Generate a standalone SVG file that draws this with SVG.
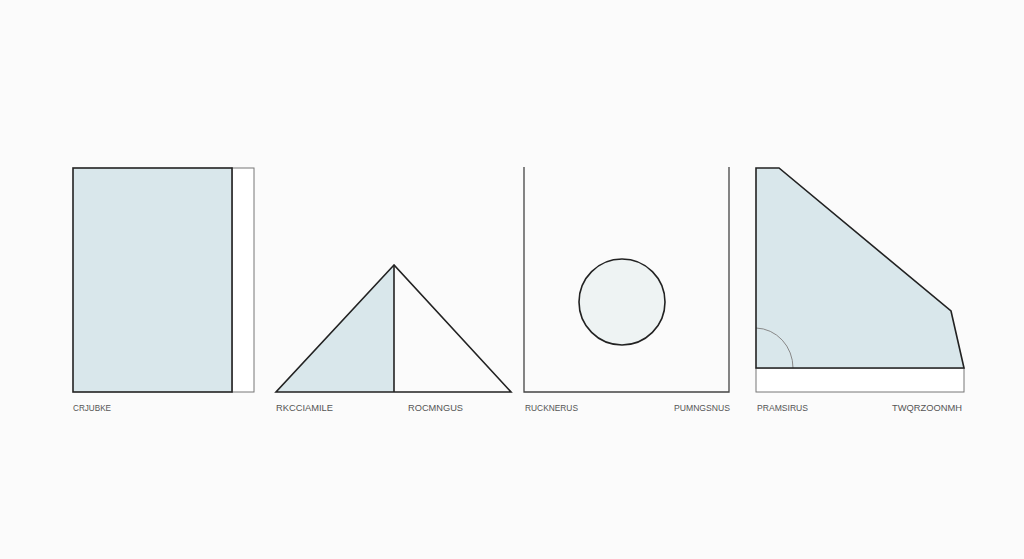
<svg xmlns="http://www.w3.org/2000/svg" width="1024" height="559" viewBox="0 0 1024 559">
<style>
.bg{fill:#fbfbfb}
.fill{fill:#d9e7eb}
.edge{stroke:#222;stroke-width:1.6;fill:none;stroke-linejoin:miter}
.thin{stroke:#777;stroke-width:1;fill:#fff}
.wall{stroke:#444;stroke-width:1.3;fill:none}
.lbl{font-family:"Liberation Sans",Arial,sans-serif;font-size:9px;fill:#555}
</style>
<rect class="bg" x="0" y="0" width="1024" height="559"/>
<g id="square">
<rect class="thin" x="232" y="168" width="22" height="224"/>
<rect class="fill" x="73" y="168" width="159" height="224"/>
<rect class="edge" x="73" y="168" width="159" height="224"/>
<text class="lbl" x="73" y="411" textLength="38" lengthAdjust="spacingAndGlyphs">CRJUBKE</text>
</g>
<g id="triangle">
<polygon class="fill" points="394,265 276,392 394,392"/>
<polygon class="edge" points="394,265 276,392 511,392"/>
<line class="edge" x1="394" y1="265" x2="394" y2="392"/>
<text class="lbl" x="276" y="411" textLength="57" lengthAdjust="spacingAndGlyphs">RKCCIAMILE</text>
<text class="lbl" x="408" y="411" textLength="55" lengthAdjust="spacingAndGlyphs">ROCMNGUS</text>
</g>
<g id="circle-panel">
<polyline class="wall" points="524,167 524,392 729,392 729,167"/>
<circle cx="622" cy="302" r="43" fill="#eef3f3" stroke="#222" stroke-width="1.6"/>
<text class="lbl" x="525" y="411" textLength="53" lengthAdjust="spacingAndGlyphs">RUCKNERUS</text>
<text class="lbl" x="674" y="411" textLength="56" lengthAdjust="spacingAndGlyphs">PUMNGSNUS</text>
</g>
<g id="trapezoid">
<rect class="thin" x="756" y="368" width="208" height="24"/>
<polygon class="fill" points="756,168 779,168 951,311 964,368 756,368"/>
<path d="M756,328 A38,40 0 0 1 793,368" fill="none" stroke="#888" stroke-width="1"/>
<polygon class="edge" points="756,168 779,168 951,311 964,368 756,368"/>
<text class="lbl" x="757" y="411" textLength="51" lengthAdjust="spacingAndGlyphs">PRAMSIRUS</text>
<text class="lbl" x="892" y="411" textLength="70" lengthAdjust="spacingAndGlyphs">TWQRZOONMH</text>
</g>
<g id="connectors"></g>
</svg>
